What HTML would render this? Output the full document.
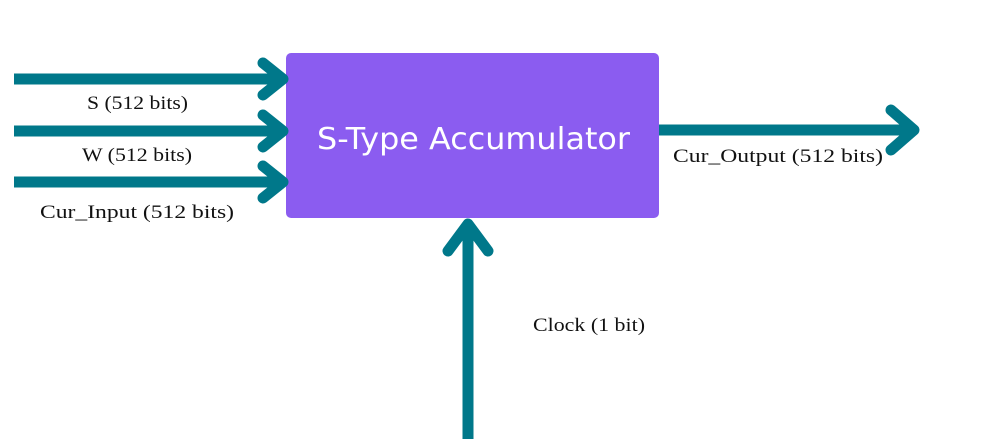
<!DOCTYPE html>
<html><head><meta charset="utf-8"><style>
html,body{margin:0;padding:0;background:#fff;}
body{width:991px;height:439px;overflow:hidden;}
</style></head><body>
<svg width="991" height="439" viewBox="0 0 991 439" xmlns="http://www.w3.org/2000/svg">
<rect x="286" y="53" width="373" height="165" rx="5" fill="#8B5CF0"/>
<g stroke="#00788A" stroke-width="11" fill="none" stroke-linecap="round" stroke-linejoin="round">
<line x1="14" y1="79" x2="280" y2="79" stroke-linecap="butt"/>
<polyline points="263,63 283,79 263,95"/>
<line x1="14" y1="131" x2="280" y2="131" stroke-linecap="butt"/>
<polyline points="263,115 283,131 263,147"/>
<line x1="14" y1="182" x2="280" y2="182" stroke-linecap="butt"/>
<polyline points="263,166 283,182 263,198"/>
<line x1="659" y1="130" x2="912" y2="130" stroke-linecap="butt"/>
<polyline points="891,110 914,130 891,150"/>
<line x1="468" y1="439" x2="468" y2="226" stroke-linecap="butt"/>
<polyline points="448,251 468,224 488,251"/>
</g>
<g font-family="'Liberation Serif',serif" font-size="19" fill="#111" lengthAdjust="spacingAndGlyphs">
<text x="87" y="109" textLength="101" lengthAdjust="spacingAndGlyphs">S (512 bits)</text>
<text x="82" y="161" textLength="110" lengthAdjust="spacingAndGlyphs">W (512 bits)</text>
<text x="40" y="218" textLength="194" lengthAdjust="spacingAndGlyphs">Cur_Input (512 bits)</text>
<text x="673" y="162" textLength="210" lengthAdjust="spacingAndGlyphs">Cur_Output (512 bits)</text>
<text x="533" y="331" textLength="112" lengthAdjust="spacingAndGlyphs">Clock (1 bit)</text>
</g>
<text x="317" y="149" textLength="313" lengthAdjust="spacingAndGlyphs" font-family="'DejaVu Sans','Liberation Sans',sans-serif" font-size="30" fill="#fff">S-Type Accumulator</text>
</svg>
</body></html>
